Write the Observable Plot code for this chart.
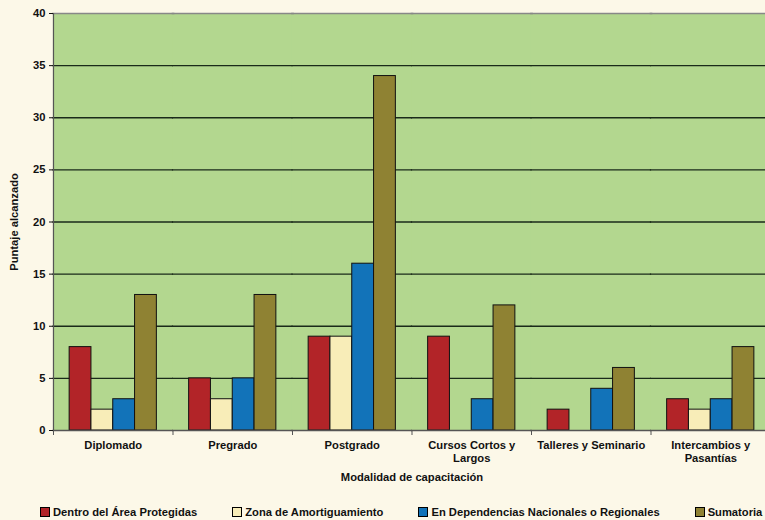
<!DOCTYPE html>
<html><head><meta charset="utf-8">
<script src="https://cdn.jsdelivr.net/npm/d3@7"></script>
<script src="https://cdn.jsdelivr.net/npm/@observablehq/plot@0.6"></script>
<style>
html,body{margin:0;padding:0;background:#FCF8E8;overflow:hidden;width:765px;height:520px}
#chart svg{display:block;max-width:none !important}
.legend{display:flex;gap:35px;margin:10px 0 0 40px;font:bold 11.2px "Liberation Sans",Arial,sans-serif;color:#111;white-space:nowrap;line-height:14px}
.legend .sw{display:inline-block;width:8px;height:8px;border:1px solid #000;margin-right:3px;vertical-align:-1px}
</style></head><body><div id="chart"></div><script>
const categories = ["Diplomado","Pregrado","Postgrado","Cursos Cortos y Largos","Talleres y Seminario","Intercambios y Pasantías"];
const categoryLabels = ["Diplomado","Pregrado","Postgrado","Cursos Cortos y\nLargos","Talleres y Seminario","Intercambios y\nPasantías"];
const seriesNames = ["Dentro del Área Protegidas","Zona de Amortiguamiento","En Dependencias Nacionales o Regionales","Sumatoria"];
const dentro = [8,5,9,9,2,3];
const zona = [2,3,9,0,0,2];
const dependencias = [3,5,16,3,4,3];
const sumatoria = [13,13,34,12,6,8];
const seriesColors = ["#B22428","#F8EDB8","#1273B9","#8F8233"];
const yTicks = [0,5,10,15,20,25,30,35,40];

const seriesValues = [dentro, zona, dependencias, sumatoria];
const data = [];
categories.forEach((c,i)=>seriesValues.forEach((vals,j)=>data.push({category:c, series:seriesNames[j], value:vals[i]})));

const W = 772, H = 495, mt = 13, mb = 65;
const chart = Plot.plot({
  width: W, height: H,
  marginTop: mt, marginBottom: mb, marginLeft: 53, marginRight: 2,
  style: {background: "transparent", maxWidth: "none", fontFamily: "'Liberation Sans', Arial, sans-serif", fontSize: "11.2px", fontWeight: "bold", color: "#111"},
  fx: {domain: categories, padding: 0, round: false},
  x: {domain: seriesNames, paddingInner: 0, paddingOuter: 0.74, round: false, axis: null},
  y: {domain: [0,40]},
  color: {domain: seriesNames, range: seriesColors},
  marks: [
    Plot.frame({fill: "#B3D78F", insetLeft: -0.6, insetRight: -0.6}),
    Plot.gridY(yTicks.filter(t=>t>0&&t<40), {stroke:"#1a2a1a", strokeOpacity:1, strokeWidth:1.3, insetLeft: -0.6, insetRight: -0.6}),
    Plot.frame({anchor:"top", stroke:"#888", strokeWidth:1.5, insetLeft: -0.6, insetRight: -0.6}),
    Plot.barY(data.filter(d=>d.value>0), {fx:"category", x:"series", y:"value", fill:"series", stroke:"#111", strokeWidth:1}),
    Plot.ruleY([0], {stroke:"#555", strokeWidth:1.5, insetLeft: -0.6, insetRight: -0.6}),
    Plot.frame({anchor:"left", facetAnchor:"left", stroke:"#555", strokeWidth:1.2}),
    Plot.frame({anchor:"left", stroke:"#555", insetTop: H-mt-mb, insetBottom: -4}),
    Plot.axisY({ticks: yTicks, tickSize: 4, tickPadding: 4, label: "Puntaje alcanzado", labelAnchor: "center", labelOffset: 43, labelArrow: "none"}),
    Plot.axisFx({anchor:"bottom", tickSize: 0, tickPadding: 9, tickFormat: c => categoryLabels[categories.indexOf(c)], lineHeight: 1.2, label: "Modalidad de capacitación", labelAnchor: "center", labelOffset: 50, labelArrow: "none"})
  ]
});
document.getElementById("chart").appendChild(chart);

const legend = document.createElement("div");
legend.className = "legend";
seriesNames.forEach((s,i)=>{
  const item = document.createElement("div");
  const sw = document.createElement("span");
  sw.className = "sw"; sw.style.background = seriesColors[i];
  item.appendChild(sw);
  item.appendChild(document.createTextNode(s));
  legend.appendChild(item);
});
document.getElementById("chart").appendChild(legend);
</script></body></html>
